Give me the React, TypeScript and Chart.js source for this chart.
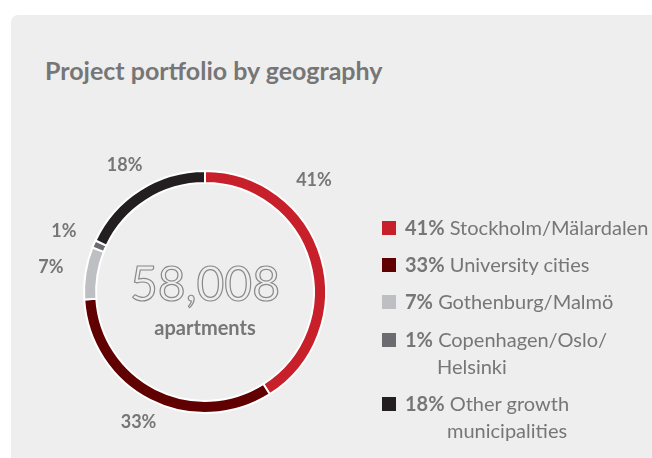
import React, { useEffect, useRef } from "react";
import { Chart, registerables } from "chart.js";

Chart.register(...registerables);

const categories = ["Stockholm/Mälardalen", "University cities", "Gothenburg/Malmö", "Copenhagen/Oslo/Helsinki", "Other growth municipalities"];
const legendLines = [["Stockholm/Mälardalen"], ["University cities"], ["Gothenburg/Malmö"], ["Copenhagen/Oslo/", "Helsinki"], ["Other growth", "municipalities"]];
const shares = [41, 33, 7, 1, 18];
const colors = ["#C8202A", "#600000", "#BEBFC2", "#6C6C70", "#231F20"];
const totalApartments = "58,008";
const centerSub = "apartments";
const title = "Project portfolio by geography";

const FONT = "Lato, 'Open Sans', sans-serif";
const TEXT = "#767676";

// outside percent label placement: fraction along the arc, and radius multiplier
const labelAlong = [0.3, 0.5, 0.5, 0.5, 0.5];
const labelRadius = [1.29, 1.21, 1.29, 1.27, 1.24];

const outsideLabels = {
  id: "outsideLabels",
  afterDatasetsDraw(chart: any) {
    const ctx = chart.ctx;
    const meta = chart.getDatasetMeta(0);
    ctx.save();
    ctx.font = `bold 18px ${FONT}`;
    ctx.fillStyle = TEXT;
    ctx.textAlign = "center";
    ctx.textBaseline = "middle";
    meta.data.forEach((arc: any, i: number) => {
      const { x, y, startAngle, endAngle, outerRadius } = arc.getProps(["x", "y", "startAngle", "endAngle", "outerRadius"], true);
      const ang = startAngle + (endAngle - startAngle) * labelAlong[i];
      const r = outerRadius * labelRadius[i];
      ctx.fillText(shares[i] + "%", x + Math.cos(ang) * r, y + Math.sin(ang) * r);
    });
    // center text
    const a = meta.data[0];
    const cx = a.x, cy = a.y;
    ctx.font = `48px ${FONT}`;
    ctx.strokeStyle = "#8a8a8a";
    ctx.lineWidth = 1.2;
    ctx.strokeText(totalApartments, cx, cy - 6);
    ctx.font = `bold 20px ${FONT}`;
    ctx.fillText(centerSub, cx, cy + 37);
    ctx.restore();
  },
};

export default function App() {
  const ref = useRef<HTMLCanvasElement>(null);
  useEffect(() => {
    const chart = new Chart(ref.current!, {
      type: "doughnut",
      data: {
        labels: categories,
        datasets: [
          {
            data: shares,
            backgroundColor: colors,
            borderColor: "#ffffff",
            borderWidth: 2,
          },
        ],
      },
      options: {
        responsive: false,
        animation: false,
        cutout: "90%",
        rotation: 0,
        layout: { padding: { left: 83, right: 325, top: 170, bottom: 44 } },
        plugins: { legend: { display: false }, tooltip: { enabled: false } },
      },
      plugins: [outsideLabels],
    });
    return () => chart.destroy();
  }, []);

  const tops = [0, 37, 74, 112, 176];
  const secondIndent = [0, 0, 0, 55, 65];

  return (
    <div style={{ position: "absolute", left: 0, top: 0, width: 652, height: 458, background: "#fff", overflow: "hidden", fontFamily: FONT }}>
      <div style={{ position: "absolute", left: 11, top: 15, right: 0, bottom: 0, background: "#EEEEEE", borderTopLeftRadius: 7 }} />
      <div style={{ position: "absolute", left: 45, top: 55, fontSize: 25, fontWeight: 700, color: TEXT, whiteSpace: "nowrap" }}>{title}</div>
      <canvas ref={ref} width={652} height={458} style={{ position: "absolute", left: 0, top: 0 }} />
      <div style={{ position: "absolute", left: 382, top: 214 }}>
        {categories.map((c, i) => (
          <div key={c} style={{ position: "absolute", top: tops[i], left: 0, whiteSpace: "nowrap", color: TEXT, fontSize: 20, lineHeight: "27px" }}>
            <span style={{ position: "absolute", left: 0, top: 7, width: 14, height: 14, background: colors[i] }} />
            <div style={{ marginLeft: 23 }}>
              <b>{shares[i]}%</b> {legendLines[i][0]}
            </div>
            {legendLines[i][1] && <div style={{ marginLeft: secondIndent[i] }}>{legendLines[i][1]}</div>}
          </div>
        ))}
      </div>
    </div>
  );
}
